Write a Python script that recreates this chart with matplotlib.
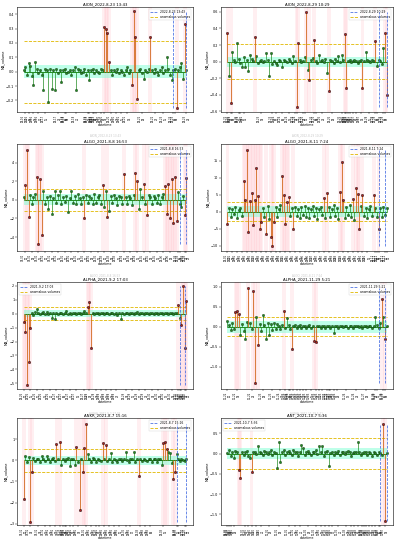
import numpy as np
import matplotlib
matplotlib.use('Agg')
import matplotlib.pyplot as plt

# ---- data (~100 samples per panel) ----
aion_0823 = [0.01, 0.03, -0.02, 0.06, 0.04, -0.03, -0.09, 0.065, 0.02, -0.01,
             0.01, -0.02, -0.13, 0.02, 0.01, -0.21, 0.02, -0.12, 0.01, -0.13,
             0.02, -0.01, 0.01, -0.07, 0.01, 0.02, -0.01, 0.0, 0.01, -0.02,
             0.01, 0.03, -0.13, 0.02, 0.01, -0.01, 0.0, 0.02, -0.02, 0.01,
             -0.06, 0.01, 0.02, -0.01, 0.01, 0.0, -0.01, 0.02, 0.01, 0.31,
             0.30, 0.27, 0.065, 0.01, -0.02, 0.01, 0.0, 0.02, -0.01, 0.01,
             0.0, -0.02, 0.01, 0.03, -0.01, 0.01, -0.09, 0.42, 0.24, -0.19,
             0.01, 0.02, -0.01, -0.05, 0.01, 0.0, 0.02, 0.24, 0.01, -0.01,
             0.02, 0.0, -0.02, 0.01, 0.03, -0.01, 0.01, 0.1, 0.02, -0.02,
             -0.06, 0.01, 0.02, -0.255, 0.01, 0.03, 0.06, -0.05, 0.33, 0.01]
aion_0823_anom = [49, 50, 51, 52, 66, 67, 68, 69, 77, 93, 98]

aion_0829 = [0.34, -0.18, -0.5, 0.12, 0.02, -0.01, 0.22, 0.03, -0.02, -0.07,
             0.05, -0.06, 0.02, -0.12, 0.08, 0.03, 0.01, 0.3, 0.07, -0.02,
             0.01, 0.02, -0.01, 0.01, 0.1, 0.02, -0.18, 0.1, -0.03, 0.01,
             -0.02, -0.04, 0.02, 0.01, -0.07, 0.02, 0.01, -0.01, 0.03, 0.01,
             -0.02, 0.07, 0.01, -0.55, 0.23, 0.02, -0.01, 0.01, 0.06, 0.6,
             -0.1, -0.22, 0.02, 0.04, 0.26, 0.01, -0.02, 0.08, 0.01, 0.02,
             -0.01, 0.03, -0.14, -0.35, 0.02, 0.01, -0.02, 0.03, 0.01, 0.07,
             -0.01, 0.08, 0.02, 0.33, -0.32, 0.01, 0.02, -0.01, 0.01, 0.02,
             0.01, -0.02, 0.01, 0.02, -0.32, 0.01, 0.12, 0.02, 0.01, -0.01,
             0.02, 0.01, 0.25, -0.05, 0.02, 0.01, -0.03, 0.16, 0.35, -0.4]
aion_0829_anom = [0, 2, 17, 43, 44, 49, 51, 54, 63, 73, 74, 84, 92, 98, 99]

algo_0808 = [0.3, 1.6, 5.4, -1.8, 0.5, -0.4, 0.3, 0.6, 2.5, -4.8,
             2.2, -3.8, 1.0, -0.5, 0.3, -1.0, 0.4, -1.5, 0.2, 1.0,
             -0.3, 0.5, 1.0, -0.4, 0.3, -0.2, 0.4, -1.3, 0.2, 1.0,
             -0.3, 0.4, -0.5, 0.6, 0.2, -0.4, 0.3, -2.0, 0.5, -0.3,
             0.4, 0.2, -0.5, 0.6, -0.3, 0.3, 0.5, -0.4, 1.6, -0.8,
             1.0, -1.8, -1.2, 0.4, -0.3, 0.5, 0.2, -0.6, 0.4, 0.3,
             -0.4, 2.8, 0.3, -0.5, 0.4, 0.2, -0.6, 0.5, 2.9, 2.0,
             -1.0, 1.2, 0.3, 1.7, -0.4, -1.6, 0.5, 0.3, -0.5, 0.4,
             0.2, -0.3, 0.5, -0.4, 0.3, 0.6, 1.5, -1.5, 1.7, -2.0,
             2.2, -2.5, 2.5, -2.3, 0.8, -0.5, -0.8, 0.4, -1.6, 2.3]
algo_0808_anom = [1, 2, 3, 8, 9, 10, 11, 37, 48, 51, 61, 68, 69, 73, 75,
                  86, 87, 88, 89, 90, 91, 92, 93, 98, 99]

algo_0811 = [-3.7, 1.2, -1.5, 0.8, -0.6, 1.4, -1.8, 0.5, 1.1, -1.2,
             9.0, 3.5, 18.3, -6.0, 3.2, 5.5, -4.0, 3.5, 12.8, 4.5,
             -5.0, -3.0, 1.2, -1.6, -6.5, 1.8, -2.2, -7.5, -10.0, -3.0,
             1.4, -1.5, 0.9, 2.0, 10.5, 5.0, -3.5, 3.0, 4.2, -1.4,
             1.0, -5.0, 1.5, -1.2, 0.8, -2.0, 1.3, -0.9, 1.6, -1.5,
             1.1, -1.9, 0.7, 1.8, -1.3, 1.2, -2.1, 0.9, 1.5, -1.1,
             4.0, -2.0, 5.5, 1.4, -1.6, 0.8, 1.9, -1.4, 1.2, -2.2,
             5.8, 14.8, 3.5, -1.8, 1.5, -1.0, 1.9, -1.5, 3.8, -2.5,
             7.0, 5.2, -5.0, 1.6, 4.8, -1.3, 1.1, -2.0, 0.9, 1.7,
             -1.4, 4.8, 1.2, -1.7, -5.2, 1.0, -1.6, 1.3, -0.9, 1.1]
algo_0811_anom = [0, 10, 11, 12, 13, 14, 15, 16, 17, 18, 19, 20, 21, 24, 27,
                  28, 29, 34, 35, 36, 37, 38, 41, 60, 62, 70, 71, 72, 78, 80,
                  81, 82, 84, 91, 94]

alpha_0902 = [-0.6, -1.3, -5.1, -3.5, -1.0, 0.05, -0.08, 0.1, 0.3, 0.02,
              -0.05, 0.04, 0.08, -0.03, 0.1, -0.02, 0.05, -0.3, 0.03, -0.42,
              0.06, -0.04, 0.02, 0.05, -0.06, 0.03, 0.2, -0.02, 0.04, -0.05,
              0.02, 0.06, -0.03, 0.04, 0.01, -0.06, 0.05, 0.15, 0.02, 0.5,
              0.8, -2.5, 0.06, -0.04, 0.03, 0.05, -0.05, 0.02, 0.04, -0.03,
              0.05, 0.01, -0.04, 0.06, 0.03, -0.02, 0.05, -0.1, 0.04, -0.42,
              0.06, -0.03, 0.02, 0.05, -0.04, 0.03, 0.06, -0.02, 0.04, 0.1,
              -0.05, 0.03, 0.05, -0.03, 0.04, 0.02, -0.05, 0.06, 0.03, -0.02,
              0.05, 0.04, -0.04, 0.02, 0.06, -0.03, 0.04, 0.03, -0.05, 0.05,
              0.02, -0.04, 0.03, 0.05, 0.6, -0.3, -0.8, 2.0, -2.5, 0.9]
alpha_0902_anom = [0, 1, 2, 3, 4, 39, 40, 41, 94, 96, 97, 98, 99]

alpha_1129 = [0.15, 0.05, -0.08, 0.1, -0.05, 0.37, 0.4, 0.32, -0.2, 0.08,
              -0.1, -0.3, 0.12, 0.98, 0.1, -0.06, 0.9, -1.42, 0.25, -0.45,
              0.08, -0.1, 0.3, 0.05, -0.3, 0.1, -0.2, 0.06, -0.08, 0.1,
              -0.05, 0.07, 0.03, -0.06, 0.05, 0.4, -0.04, 0.22, 0.04, -0.05,
              -0.55, 0.03, 0.05, -0.03, 0.02, 0.04, -0.02, 0.03, 0.01, -0.03,
              0.02, 0.04, -0.02, 0.03, -0.35, -0.38, 0.02, 0.03, -0.02, 0.01,
              0.03, -0.02, 0.02, 0.01, -0.03, 0.02, -0.15, 0.03, 0.01, -0.02,
              0.02, 0.03, -0.01, 0.02, 0.01, -0.02, 0.03, 0.01, -0.02, 0.02,
              0.01, 0.03, -0.01, 0.02, -0.02, 0.01, 0.03, -0.01, 0.02, 0.01,
              -0.02, 0.03, 0.25, 0.05, -0.03, 0.1, 0.7, 0.25, -0.3, 0.02]
alpha_1129_anom = [5, 6, 7, 13, 16, 17, 19, 35, 40, 54, 55, 96, 98]

ankr_0807 = [-1.85, 0.2, -0.1, 0.15, -2.9, -0.55, 0.1, -0.05, 0.08, 0.04,
             -0.06, 0.2, 0.05, -0.03, 0.22, 0.06, -0.08, 0.04, 0.1, -0.05,
             0.75, 0.05, 0.85, -0.2, 0.08, -0.05, 0.06, 0.1, -0.25, 0.04,
             0.07, -0.2, 0.65, -0.1, -2.35, 0.06, -0.55, 0.6, 1.7, 0.3,
             0.05, -0.08, 0.1, 0.04, -0.06, 0.08, 0.03, -0.05, 0.8, 0.07,
             0.7, -0.04, 0.06, 0.35, -0.08, 0.05, 0.03, -0.06, 0.08, 0.04,
             -0.05, 0.06, 0.4, 0.03, -0.07, 0.05, 0.04, 0.4, -0.06, 0.08,
             -0.75, 0.05, -0.04, 0.06, 0.03, -0.05, 0.07, 0.04, -0.06, 0.05,
             0.08, -0.1, 0.04, 0.06, -0.2, 0.8, 0.85, 0.55, 0.4, 0.35,
             -0.15, -0.9, -0.55, 0.3, 0.05, -0.04, 0.06, 0.03, -0.05, 0.04]
ankr_0807_anom = [0, 4, 5, 20, 22, 32, 34, 36, 37, 38, 48, 50, 70, 85, 86,
                  87, 91, 92]

ant_1007 = [0.02, 0.08, -0.05, 0.04, -0.1, 0.06, 0.03, -0.4, -0.6, 0.05,
            -0.03, 0.04, 0.06, -0.05, -0.1, -0.45, 0.03, 0.05, -0.02, 0.2,
            0.04, 0.02, -0.04, 0.06, 0.03, -0.02, 0.05, 0.08, -0.03, 0.04,
            0.02, -0.35, 0.3, -0.2, 0.05, 0.1, -0.03, 0.04, 0.06, 0.02,
            -0.04, 0.1, 0.05, 0.03, -0.05, 0.04, 0.22, 0.15, -0.03, 0.05,
            0.06, 0.02, -0.04, 0.03, 0.05, 0.08, -0.02, 0.2, 0.04, 0.2,
            -0.05, 0.03, 0.06, -0.3, 0.02, 0.04, -0.03, 0.05, 0.02, 0.06,
            -0.04, 0.03, 0.05, -0.02, 0.04, 0.06, 0.03, -0.05, 0.02, 0.04,
            0.05, 0.28, 0.03, -0.04, 0.02, 0.05, 0.03, -0.03, 0.04, 0.02,
            -0.05, 0.03, 0.02, -0.04, 0.03, 0.02, -0.03, 0.72, -1.66, 0.02]
ant_1007_anom = [7, 8, 15, 97, 98]

# tick positions (sample index) and labels
aion_0823_ticks = [1, 3, 6, 9, 13, 21, 25, 26, 32, 39, 40, 42, 43, 44, 47, 49, 53,
                   56, 59, 63, 72, 80, 85, 91, 92, 99]
aion_0823_labels = ("08-16 01,08-16 06,08-16 13,08-16 20,08-17 05,08-17 22,08-18 06,"
                    "08-18 09,08-18 21,08-19 12,08-19 14,08-19 18,08-19 20,08-19 22,"
                    "08-20 05,08-20 09,08-20 17,08-20 23,08-21 05,08-21 14,08-22 08,"
                    "08-22 23,08-23 05,08-23 13,08-23 15,08-23 22").split(",")
aion_0829_ticks = [0, 2, 3, 7, 8, 10, 21, 28, 30, 34, 38, 42, 43, 47, 48, 54, 55,
                   59, 65, 71, 73, 74, 75, 76, 78, 80, 83, 88, 92, 93, 97, 98]
aion_0829_labels = ("08-22 00,08-22 03,08-22 05,08-22 11,08-22 13,08-22 16,08-23 09,"
                    "08-23 20,08-24 00,08-24 06,08-24 13,08-24 19,08-24 21,08-25 03,"
                    "08-25 05,08-25 14,08-25 16,08-25 22,08-26 08,08-26 18,08-26 21,"
                    "08-26 23,08-27 01,08-27 02,08-27 05,08-27 09,08-27 14,08-28 05,"
                    "08-28 14,08-29 10,08-29 15,08-29 17").split(",")
algo_0808_ticks = [1, 5, 9, 13, 17, 21, 25, 29, 33, 37, 41, 45, 49, 53, 57, 61, 65,
                   69, 73, 77, 81, 85, 89, 94, 95, 98, 99]
algo_0808_labels = ("07-30 00,07-30 08,07-30 16,07-31 00,07-31 08,07-31 16,08-01 00,"
                    "08-01 08,08-01 16,08-02 00,08-02 08,08-02 16,08-03 00,08-03 08,"
                    "08-03 16,08-04 00,08-04 08,08-04 16,08-05 00,08-05 08,08-05 16,"
                    "08-06 00,08-06 08,08-08 16,08-08 17,08-08 22,08-08 23").split(",")
algo_0811_ticks = [0, 3, 6, 9, 12, 15, 18, 21, 24, 27, 30, 33, 36, 39, 42, 45, 48,
                   51, 54, 57, 60, 63, 66, 69, 72, 75, 78, 81, 84, 87, 92, 93, 94,
                   98, 99]
algo_0811_labels = ("08-01 00,08-01 08,08-01 16,08-02 00,08-02 08,08-02 16,08-03 00,"
                    "08-03 08,08-03 16,08-04 00,08-04 08,08-04 16,08-05 00,08-05 08,"
                    "08-05 16,08-06 00,08-06 08,08-06 16,08-07 00,08-07 08,08-07 16,"
                    "08-08 00,08-08 08,08-08 16,08-09 00,08-09 08,08-09 16,08-10 00,"
                    "08-10 08,08-10 16,08-11 05,08-11 06,08-11 07,08-11 11,08-11 12").split(",")
alpha_0902_ticks = [0, 4, 8, 12, 16, 20, 24, 28, 32, 37, 40, 44, 47, 50, 53, 56, 62,
                    66, 70, 74, 78, 82, 86, 90, 94, 95, 96, 98, 99]
alpha_0902_labels = ("08-26 00,08-26 05,08-26 10,08-26 15,08-26 20,08-27 01,08-27 06,"
                     "08-27 11,08-27 16,08-27 22,08-28 02,08-28 07,08-28 11,08-28 15,"
                     "08-28 19,08-28 23,08-29 07,08-29 12,08-29 17,08-29 22,08-30 03,"
                     "08-30 08,08-30 13,08-30 18,09-02 14,09-02 16,09-02 17,09-02 19,"
                     "09-02 21").split(",")
alpha_1129_ticks = [0, 6, 15, 22, 28, 33, 36, 38, 39, 41, 43, 45, 47, 49, 52, 55, 57,
                    59, 62, 63, 64, 66, 68, 74, 80, 86, 92, 93, 97, 98]
alpha_1129_labels = ("11-22 00,11-22 09,11-22 22,11-23 08,11-23 17,11-24 01,11-24 05,"
                     "11-24 08,11-24 10,11-24 13,11-24 16,11-24 19,11-24 22,11-25 01,"
                     "11-25 05,11-25 09,11-25 12,11-25 15,11-25 19,11-25 21,11-25 22,"
                     "11-26 01,11-26 04,11-26 13,11-26 22,11-27 08,11-29 03,11-29 05,"
                     "11-29 10,11-29 12").split(",")
ankr_0807_ticks = [0, 4, 9, 13, 16, 19, 22, 24, 25, 26, 28, 30, 33, 38, 41, 44, 46,
                   49, 52, 55, 58, 62, 65, 71, 74, 77, 85, 93, 94, 98, 99]
ankr_0807_labels = ("07-31 00,07-31 03,07-31 07,07-31 11,07-31 14,07-31 17,07-31 20,"
                    "07-31 22,07-31 23,08-01 00,08-01 02,08-01 04,08-01 07,08-01 12,"
                    "08-01 15,08-01 18,08-01 20,08-02 00,08-02 03,08-02 06,08-02 10,"
                    "08-02 14,08-02 17,08-03 00,08-03 03,08-03 06,08-03 16,08-07 15,"
                    "08-07 16,08-07 20,08-07 21").split(",")
ant_1007_ticks = [0, 1, 2, 4, 11, 13, 15, 18, 21, 26, 32, 38, 42, 45, 50, 55, 58, 61,
                  63, 65, 69, 74, 77, 79, 81, 84, 85, 86, 88, 90, 92, 94, 95, 98]
ant_1007_labels = ("09-30 00,09-30 01,09-30 02,09-30 04,09-30 11,09-30 13,09-30 15,"
                   "09-30 18,09-30 21,10-01 02,10-01 08,10-01 14,10-01 18,10-01 21,"
                   "10-02 02,10-02 07,10-02 10,10-02 13,10-02 15,10-02 17,10-02 21,"
                   "10-03 02,10-03 05,10-03 07,10-03 09,10-03 12,10-03 13,10-03 14,"
                   "10-03 16,10-03 18,10-03 20,10-07 05,10-07 06,10-07 09").split(",")

panels = [
    dict(coin="AION", date="2022-8-23 13:43", vals=aion_0823, anom=aion_0823_anom,
         thr=0.215, band=0.045, vl=(91, 99), ticks=aion_0823_ticks, labels=aion_0823_labels,
         ylim=(-0.28, 0.45), yt=[-0.2, -0.1, 0.0, 0.1, 0.2, 0.3, 0.4], loc="upper right"),
    dict(coin="AION", date="2022-8-29 10:29", vals=aion_0829, anom=aion_0829_anom,
         thr=0.213, band=0.06, vl=(94, 99), ticks=aion_0829_ticks, labels=aion_0829_labels,
         ylim=(-0.61, 0.66), yt=[-0.6, -0.4, -0.2, 0.0, 0.2, 0.4, 0.6], loc="upper right"),
    dict(coin="ALGO", date="2021-8-8 16:53", vals=algo_0808, anom=algo_0808_anom,
         thr=1.2, band=0.6, vl=(95, 99), ticks=algo_0808_ticks, labels=algo_0808_labels,
         ylim=(-5.5, 6.0), yt=[-4, -2, 0, 2, 4], loc="upper right"),
    dict(coin="ALGO", date="2021-8-11 7:24", vals=algo_0811, anom=algo_0811_anom,
         thr=2.8, band=1.6, vl=(94, 98), ticks=algo_0811_ticks, labels=algo_0811_labels,
         ylim=(-11.6, 20.0), yt=[-10, -5, 0, 5, 10, 15], loc="upper right"),
    dict(coin="ALPHA", date="2021-9-2 17:03", vals=alpha_0902, anom=alpha_0902_anom,
         thr=0.45, band=0.22, vl=(95, 98), ticks=alpha_0902_ticks, labels=alpha_0902_labels,
         ylim=(-5.4, 2.26), yt=[-5, -4, -3, -2, -1, 0, 1, 2], loc="upper left"),
    dict(coin="ALPHA", date="2021-11-29 5:21", vals=alpha_1129, anom=alpha_1129_anom,
         thr=0.24, band=0.15, vl=(94, 98), ticks=alpha_1129_ticks, labels=alpha_1129_labels,
         ylim=(-1.56, 1.125), yt=[-1.0, -0.5, 0.0, 0.5, 1.0], loc="upper right"),
    dict(coin="ANKR", date="2021-8-7 15:16", vals=ankr_0807, anom=ankr_0807_anom,
         thr=0.55, band=0.2, vl=(93, 99), ticks=ankr_0807_ticks, labels=ankr_0807_labels,
         ylim=(-3.06, 2.0), yt=[-3, -2, -1, 0, 1], loc="upper right"),
    dict(coin="ANT", date="2021-10-7 5:36", vals=ant_1007, anom=ant_1007_anom,
         thr=0.38, band=0.14, vl=(95, 99), ticks=ant_1007_ticks, labels=ant_1007_labels,
         ylim=(-1.76, 0.88), yt=[-1.5, -1.0, -0.5, 0.0, 0.5], loc="upper left"),
]

# axes boxes in pixels: (left, right) per column, (top, bottom) per row
W, H = 397, 550
cols = [(17, 193), (221, 393)]
rows = [(7, 112), (144, 251), (282, 389), (418, 525)]

fig = plt.figure(figsize=(W / 100, H / 100), dpi=100)

for k, p in enumerate(panels):
    c0, c1 = cols[k % 2]
    r0, r1 = rows[k // 2]
    ax = fig.add_axes([c0 / W, 1 - r1 / H, (c1 - c0) / W, (r1 - r0) / H])

    v = np.array(p["vals"])
    x = np.arange(len(v))
    a = np.array(p["anom"])
    normal = np.setdiff1d(x, a)

    # pink shading around anomalies
    for i in a:
        ax.axvspan(i - 1.2, i + 1.2, color="#ffc0cb", alpha=0.25, lw=0, zorder=0)
    # normal band
    ax.fill_between(x, -p["band"], p["band"], color="#7fffd4", alpha=0.5, lw=0, zorder=1)

    # stems
    ax.vlines(normal, 0, v[normal], colors="forestgreen", lw=0.5, zorder=3)
    ax.hlines(0, x[0], x[-1], colors="forestgreen", lw=0.7, zorder=3)
    ax.plot(normal, v[normal], "o", ms=1.7, mfc="forestgreen", mec="#123312",
            mew=0.3, zorder=4)
    ax.vlines(a, 0, v[a], colors="chocolate", lw=0.6, zorder=4)
    ax.plot(a, v[a], "o", ms=1.7, mfc="#b22222", mec="black", mew=0.3, zorder=5)

    # event time lines and threshold lines
    vl = ax.vlines(list(p["vl"]), v.min(), v.max(), colors="royalblue",
                   linestyles="--", lw=0.55, zorder=6, label=p["date"])
    th = ax.hlines([p["thr"], -p["thr"]], x[0], x[-1], colors="#e0b800",
                   linestyles="--", lw=0.6, zorder=2, label="anomalous volumes")

    ax.set_xlim(-4, len(v) + 3)
    ax.set_ylim(*p["ylim"])
    ax.set_yticks(p["yt"])
    ax.set_xticks(p["ticks"])
    ax.set_xticklabels([s.replace(" ", "\n") for s in p["labels"]], rotation=90,
                       fontsize=1.8, linespacing=1.0)
    ax.tick_params(axis="y", labelsize=2.4)
    ax.tick_params(length=1.2, width=0.3, pad=0.8)
    for s in ax.spines.values():
        s.set_linewidth(0.4)

    title = f"{p['coin']}_{p['date']}"
    ax.set_title(title, fontsize=2.8, pad=1.5)
    ax.set_ylabel("MA_volume", fontsize=2.4, labelpad=1.0)
    ax.set_xlabel("datetime", fontsize=2.3, labelpad=0.8)
    ax.legend(handles=[vl, th], loc=p["loc"], fontsize=2.2, frameon=True,
              framealpha=0.8, borderpad=0.4, handlelength=2.5, labelspacing=0.3,
              borderaxespad=0.5).get_frame().set_linewidth(0.3)
    if k < 6:
        ax.text(0.5, -0.205, title, transform=ax.transAxes, ha="center", va="top",
                fontsize=2.0, color="#c8c8c8")

fig.savefig("out.png", dpi=100)
